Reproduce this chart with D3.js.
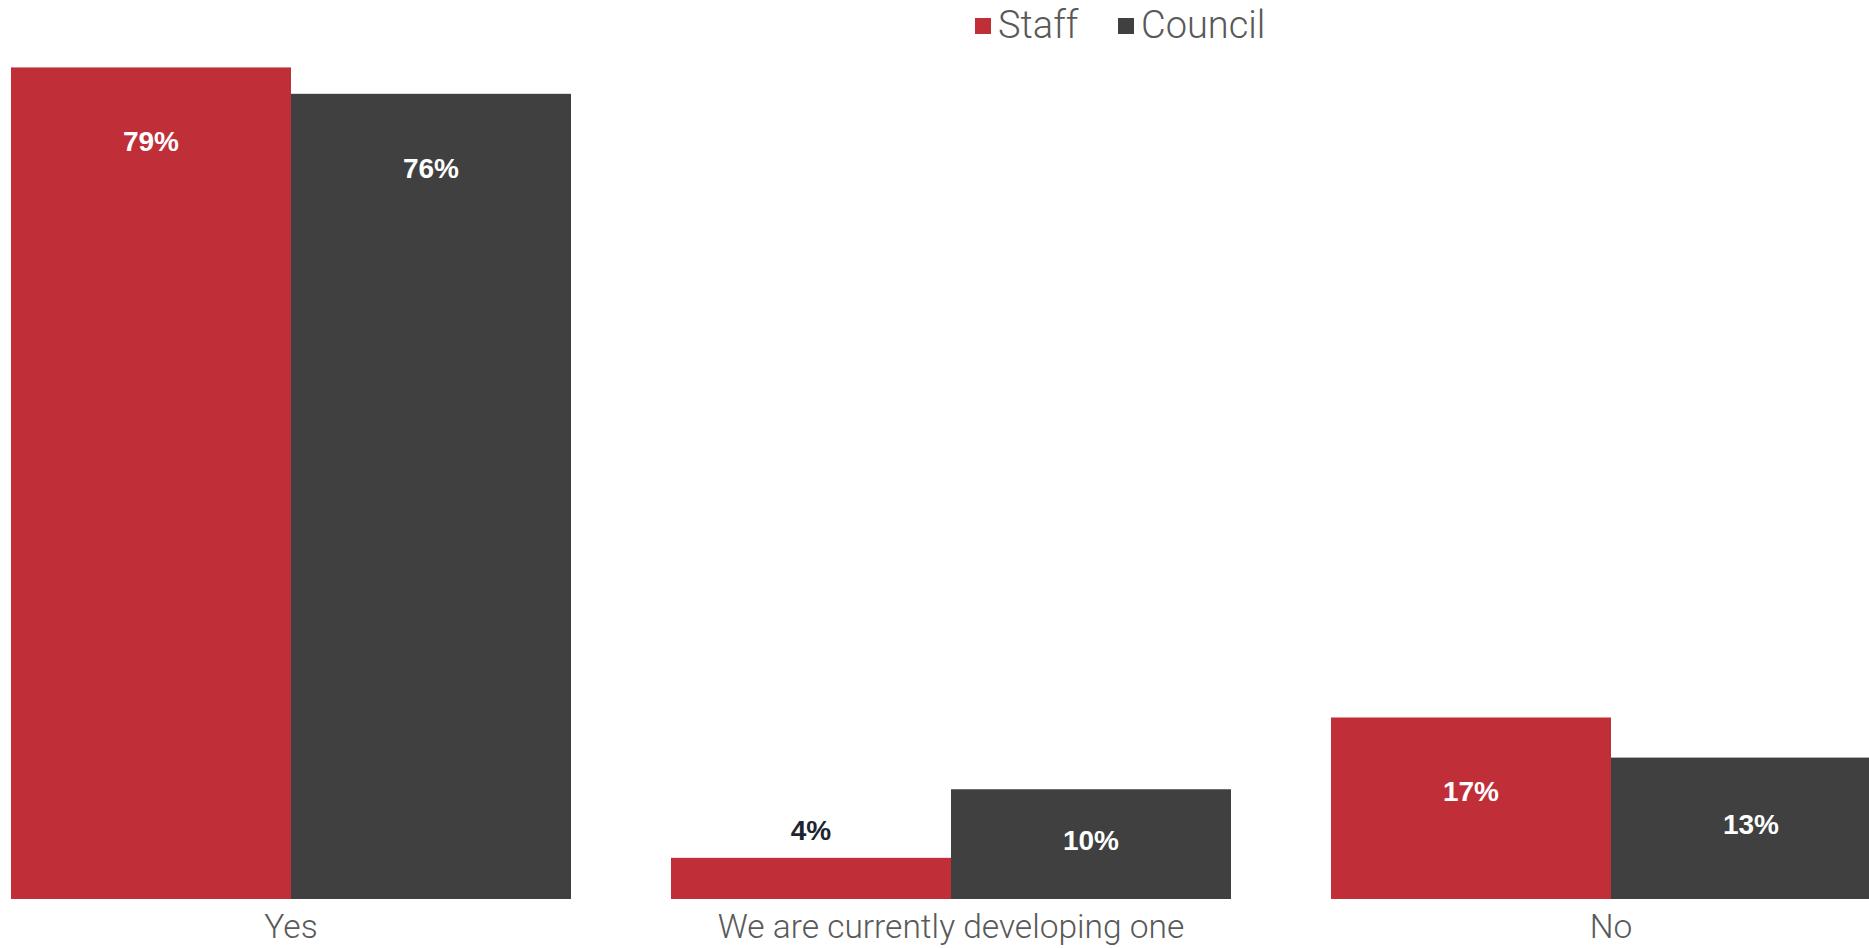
<!DOCTYPE html>
<html>
<head>
<meta charset="utf-8">
<script src="https://cdn.jsdelivr.net/npm/d3@7"></script>
<style>
  body { margin: 0; background: #fff; }
  svg { display: block; }
</style>
</head>
<body>
<svg></svg>
<script>
const categories = ["Yes", "We are currently developing one", "No"];
const seriesNames = ["Staff", "Council"];
const staffValues = [78.8, 3.9, 17.2];
const councilValues = [76.3, 10.4, 13.4];
const colors = ["#c02e38", "#404040"];

const width = 1869;
const height = 948;
let svg = d3.select("svg")
  .attr("width", width)
  .attr("height", height);

// the last group runs past the right edge in the original
let x0 = d3.scaleBand().domain(categories).range([11, 1891]).paddingInner(100 / 660);
let x1 = d3.scaleBand().domain(seriesNames).range([0, x0.bandwidth()]);
let y = d3.scaleLinear().domain([0, 85]).range([899, 2]);
let color = d3.scaleOrdinal().domain(seriesNames).range(colors);

let rows = [];
categories.forEach((c, i) => {
  rows.push({cat: c, series: "Staff", value: staffValues[i]});
  rows.push({cat: c, series: "Council", value: councilValues[i]});
});

svg.selectAll("rect.bar")
  .data(rows)
  .enter()
  .append("rect")
  .attr("class", "bar")
  .attr("x", d => x0(d.cat) + x1(d.series))
  .attr("y", d => y(d.value))
  .attr("width", x1.bandwidth())
  .attr("height", d => y(0) - y(d.value))
  .attr("fill", d => color(d.series));

// value labels: inside the bar, above it when the bar is too short
svg.selectAll("text.value")
  .data(rows)
  .enter()
  .append("text")
  .attr("class", "value")
  .attr("x", d => x0(d.cat) + x1(d.series) + x1.bandwidth() / 2)
  .attr("y", d => {
    let h = y(0) - y(d.value);
    if (h < 60) return y(d.value) - 18;
    return y(d.value) + Math.min(h / 2 - 4, 74) + 10;
  })
  .attr("text-anchor", "middle")
  .attr("font-family", "'Liberation Sans', Arial, sans-serif")
  .attr("font-weight", "bold")
  .attr("font-size", 28)
  .attr("fill", d => (y(0) - y(d.value) < 60) ? "#1e2530" : "#fff")
  .text(d => Math.round(d.value) + "%");

// category axis
let xAxis = d3.axisBottom(x0).tickSize(0).tickPadding(12);
let gx = svg.append("g")
  .attr("transform", `translate(0, ${y(0)})`)
  .call(xAxis);
gx.select(".domain").remove();
gx.selectAll("text")
  .attr("font-family", "Roboto, 'Liberation Sans', sans-serif")
  .attr("font-weight", 300)
  .attr("font-size", 33.5)
  .attr("fill", "#595959")
  .attr("dy", "0.82em");

// legend
let legendX = [975, 1118];
let legend = svg.selectAll("g.legend")
  .data(seriesNames)
  .enter()
  .append("g")
  .attr("class", "legend")
  .attr("transform", (d, i) => `translate(${legendX[i]}, 0)`);
legend.append("rect")
  .attr("x", 0)
  .attr("y", 18)
  .attr("width", 16)
  .attr("height", 16)
  .attr("fill", d => color(d));
legend.append("text")
  .attr("x", 23)
  .attr("y", 38)
  .attr("font-family", "Roboto, 'Liberation Sans', sans-serif")
  .attr("font-weight", 300)
  .attr("font-size", 38)
  .attr("fill", "#595959")
  .text(d => d);
</script>
</body>
</html>
